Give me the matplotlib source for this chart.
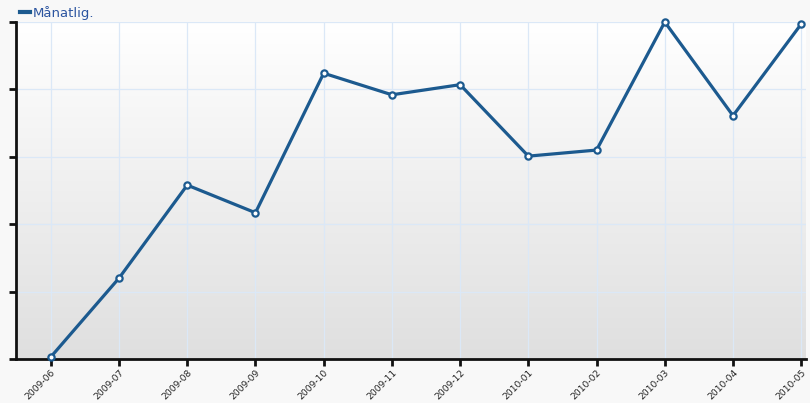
import matplotlib
matplotlib.use("Agg")
import matplotlib.pyplot as plt
import numpy as np
from matplotlib.lines import Line2D

months = ["2009-06", "2009-07", "2009-08", "2009-09", "2009-10", "2009-11",
          "2009-12", "2010-01", "2010-02", "2010-03", "2010-04", "2010-05"]
values = [0.03, 1.20, 2.58, 2.17, 4.24, 3.92, 4.07, 3.01, 3.10, 5.00, 3.61, 4.97]
yticks = [0, 1, 2, 3, 4, 5]
series_name = "Månatlig."

line_color = "#1c5a8f"

fig = plt.figure(figsize=(8.1, 4.03), dpi=100, facecolor="#f8f8f8")
ax = fig.add_axes([16/810, 44/403, 790/810, 337/403])
ax.set_facecolor("none")

x = np.arange(len(months))
ax.set_xlim(-0.51, len(months) - 1 + 0.07)
ax.set_ylim(0, 5)

# gradient background
grad = np.linspace(1, 0, 256).reshape(-1, 1)
top = np.array([1.0, 1.0, 1.0])
bot = np.array([0.875, 0.875, 0.875])
img = top * grad[..., None] + bot * (1 - grad[..., None])
ax.imshow(img, extent=[0, 1, 0, 1], transform=ax.transAxes, aspect="auto", zorder=0)

ax.set_xticks(x)
ax.set_xticklabels(months, rotation=45, ha="right", rotation_mode="anchor",
                   fontsize=6.6, color="#222222")
ax.set_yticks(yticks)
ax.set_yticklabels([])
ax.grid(True, color="#dbe8f7", linewidth=0.9, zorder=1)
ax.set_axisbelow(True)

for s in ["top", "right"]:
    ax.spines[s].set_visible(False)
for s in ["left", "bottom"]:
    ax.spines[s].set_color("#111111")
    ax.spines[s].set_linewidth(2)
ax.tick_params(axis="both", direction="out", length=5, width=2, color="#111111", pad=1.5)

ax.plot(x, values, color=line_color, linewidth=2.3, marker="o", markersize=4.5,
        markerfacecolor="white", markeredgecolor=line_color, markeredgewidth=1.6,
        zorder=5, clip_on=False)

handle = Line2D([], [], color=line_color, linewidth=3)
leg = fig.legend([handle], [series_name], loc="upper left", bbox_to_anchor=(17/810, 1 - 3/403),
                 frameon=False, fontsize=9.5, handlelength=0.8, handletextpad=0.2,
                 borderaxespad=0, borderpad=0.2)
for t in leg.get_texts():
    t.set_color("#2c55a0")

fig.savefig("out.png", dpi=100, facecolor=fig.get_facecolor())
